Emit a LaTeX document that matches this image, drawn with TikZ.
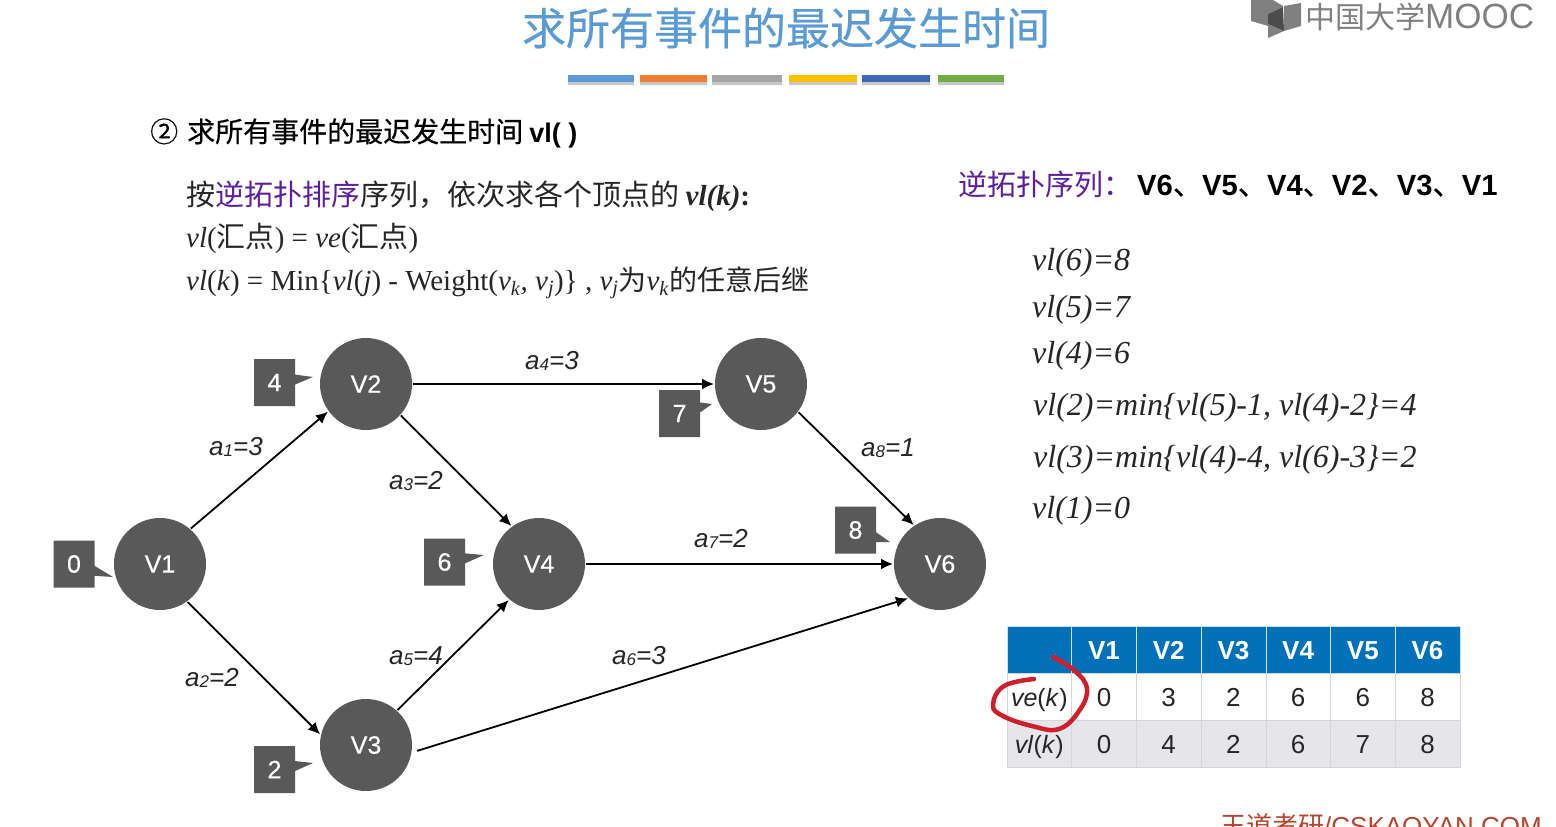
\documentclass[tikz,border=0pt]{standalone}
\usepackage{fontspec}
\usepackage{xcolor}
\setmainfont{Liberation Serif}
\setsansfont{Liberation Sans}
\newfontfamily\cjk{Noto Sans CJK SC}
\newfontfamily\cjkb[FakeBold=0.4]{Noto Sans CJK SC}
\newfontfamily\sansb[FakeBold=0.5]{Liberation Sans}
\usetikzlibrary{arrows.meta,positioning,shapes.callouts}
\definecolor{ink}{HTML}{595959}
\definecolor{titleblue}{HTML}{5B9BD5}
\definecolor{plum}{HTML}{5E1F9E}
\definecolor{headblue}{HTML}{0070B8}
\definecolor{rowgray}{HTML}{E6E6EA}
\definecolor{gridgray}{HTML}{D4D6DA}
\definecolor{penred}{HTML}{CF1F2A}
\definecolor{logogray}{HTML}{808080}
\definecolor{wdred}{HTML}{B5452C}
\definecolor{barorange}{HTML}{ED7D31}
\definecolor{bargray}{HTML}{A5A5A5}
\definecolor{baryellow}{HTML}{FFC000}
\definecolor{barblue}{HTML}{3D68B8}
\definecolor{bargreen}{HTML}{70AD47}
\newcommand{\sz}[1]{\fontsize{#1}{#1}\selectfont}
\newcommand{\sub}[1]{\textsubscript{#1}}
\newcommand{\lsub}[1]{\raisebox{-1.5pt}{\sz{17}#1}}
\begin{document}
\begin{tikzpicture}[x=1pt,y=1pt,on grid,inner sep=0pt,
vertex/.style={circle,fill=ink,minimum size=92pt,outer sep=1pt,text=white,font=\sansb\sz{25}},
tag/.style={rectangle callout,fill=ink,minimum width=41pt,minimum height=47pt,callout pointer width=10pt,text=white,font=\sansb\sz{25}},
arr/.style={-{Latex[length=12pt,width=11pt]},line width=1.8pt,draw=black},
lab/.style={font=\sffamily\itshape\sz{26},text=black!85},
line/.style={anchor=base west,font=\sz{29},text=black!85},
eqn/.style={anchor=base west,font=\itshape\sz{32},text=black!85},
cellh/.style={fill=headblue,draw=white!80!headblue,minimum width=64.7pt,minimum height=46.7pt,text height=22.6pt,text depth=3.4pt,text=white,font=\sffamily\bfseries\sz{26}},
cella/.style={fill=white,draw=gridgray,minimum width=64.7pt,minimum height=46.7pt,text height=22.6pt,text depth=3.4pt,text=black!85,font=\sffamily\sz{26}},
cellb/.style={cella,fill=rowgray},
node distance=64.7pt]
\useasboundingbox (0,-827) rectangle (1556,0);
% title and colour bars
\node[font=\cjkb\sz{44},text=titleblue] (title) at (786,-28) {求所有事件的最迟发生时间};
\fill[black!22] (568,-85) rectangle (634,-79) (640,-85) rectangle (707,-79) (712,-85) rectangle (782,-79) (789,-85) rectangle (857,-79) (862,-85) rectangle (930,-79) (938,-85) rectangle (1004,-79);
\fill[titleblue] (568,-82) rectangle (634,-75);
\fill[barorange] (640,-82) rectangle (707,-75);
\fill[bargray] (712,-82) rectangle (782,-75);
\fill[baryellow] (789,-82) rectangle (857,-75);
\fill[barblue] (862,-82) rectangle (930,-75);
\fill[bargreen] (938,-82) rectangle (1004,-75);
% logo
\fill[logogray] (1251,0) -- (1251,-21) -- (1268,-26) -- (1268,-14) -- (1283,-7) -- (1283,-6) -- (1273,0) -- cycle;
\fill[logogray] (1268,-24) -- (1284,-31) -- (1268,-38) -- cycle;
\fill[logogray] (1284,-6) -- (1301,-3) -- (1301,-26) -- (1284,-31) -- cycle;
\fill[black!70] (1268,-14) -- (1283,-7) -- (1284,-31) -- (1268,-24) -- cycle;
\node[font=\cjk\sz{30},text=logogray,anchor=base west] (logo) at (1305,-28) {中国大学{\sffamily\sz{35}MOOC}};
% text block
\node[anchor=base west,font=\cjkb\sz{28},text=black] (head) at (150,-142) {②\hspace{9pt}求所有事件的最迟发生时间 {\sffamily\bfseries\sz{27}vl( )}};
\node[line] (l1) at (186,-205) {\cjk 按{\color{plum}逆拓扑排序}序列\char"FF0C 依次求各个顶点的 {\rmfamily\bfseries\itshape\sz{29}vl(k)}{\rmfamily\bfseries\sz{29}:}};
\node[line] (l2) at (186,-247) {\sz{29}\textit{vl}({\cjk\sz{29}汇点}) = \textit{ve}({\cjk\sz{29}汇点})};
\node[line] (l3) at (186,-290) {\sz{29}\textit{vl}(\textit{k}) = Min\{\textit{vl}(\textit{j}) - Weight(\textit{v}\sub{\textit{k}}, \textit{v}\sub{\textit{j}})\} , \textit{v}\sub{\textit{j}}{\cjk\sz{28}为}\textit{v}\sub{\textit{k}}{\cjk\sz{28}的任意后继}};
\node[anchor=base west,font=\cjk\sz{29},text=plum] (seq) at (958,-195) {逆拓扑序列\char"FF1A};
\node[anchor=base west,font=\cjkb\sz{29.2},text=black] (seqv) at (1137,-195) {{\sffamily\bfseries V6}、{\sffamily\bfseries V5}、{\sffamily\bfseries V4}、{\sffamily\bfseries V2}、{\sffamily\bfseries V3}、{\sffamily\bfseries V1}};
% equations
\node[eqn] (e6) at (1032,-270) {vl(6)=8};
\node[eqn] (e5) at (1032,-317) {vl(5)=7};
\node[eqn] (e4) at (1032,-363) {vl(4)=6};
\node[eqn] (e2) at (1033,-415) {vl(2)=min\{vl(5)-1, vl(4)-2\}=4};
\node[eqn] (e3) at (1033,-467) {vl(3)=min\{vl(4)-4, vl(6)-3\}=2};
\node[eqn] (e1) at (1032,-518) {vl(1)=0};
% graph
\node[vertex] (V1) at (160,-564) {V1};
\node[vertex,above right=180pt and 206pt of V1] (V2) {V2};
\node[vertex,below right=181pt and 206pt of V1] (V3) {V3};
\node[vertex,right=379pt of V1] (V4) {V4};
\node[vertex,right=395pt of V2] (V5) {V5};
\node[vertex,right=401pt of V4] (V6) {V6};
\node[tag,left=86pt of V1,callout absolute pointer={(113,-577)}] (t1) {0};
\node[tag,above left=1.5pt and 91.5pt of V2,callout absolute pointer={(313,-377)}] (t2) {4};
\node[tag,below left=24.5pt and 91.5pt of V3,callout absolute pointer={(313,-763)}] (t3) {2};
\node[tag,above left=2pt and 94.5pt of V4,callout absolute pointer={(484,-555)}] (t4) {6};
\node[tag,below left=29.5pt and 81.5pt of V5,callout absolute pointer={(712,-404)}] (t5) {7};
\node[tag,above left=34pt and 84.5pt of V6,callout absolute pointer={(890,-542)}] (t6) {8};
\draw[arr] (V1.49)--(V2.216);
\draw[arr] (V1.-54)--(V3.167);
\draw[arr] (V2.-42)--(V4.126);
\draw[arr] (V2)--(V5);
\draw[arr] (V3.48)--(V4.230);
\draw[arr,shorten <=5pt] (V3.-9)--(V6.227);
\draw[arr] (V4)--(V6);
\draw[arr] (V5.-37)--(V6.124);
\node[lab] (a1) at (236,-447) {a\lsub{1}=3};
\node[lab] (a2) at (212,-678) {a\lsub{2}=2};
\node[lab] (a3) at (416,-481) {a\lsub{3}=2};
\node[lab] (a4) at (552,-361) {a\lsub{4}=3};
\node[lab] (a5) at (416,-656) {a\lsub{5}=4};
\node[lab] (a6) at (639,-656) {a\lsub{6}=3};
\node[lab] (a7) at (721,-539) {a\lsub{7}=2};
\node[lab] (a8) at (888,-448) {a\lsub{8}=1};
% table
\node[cellh] (h0) at (1039.3,-650) {};
\node[cellh,right=of h0] (h1) {V1};
\node[cellh,right=of h1] (h2) {V2};
\node[cellh,right=of h2] (h3) {V3};
\node[cellh,right=of h3] (h4) {V4};
\node[cellh,right=of h4] (h5) {V5};
\node[cellh,right=of h5] (h6) {V6};
\node[cella,below=46.7pt of h0,font=\sffamily\sz{25}] (e0) {\textit{ve}(\textit{k})};
\node[cella,right=of e0] (ve1) {0};
\node[cella,right=of ve1] (ve2) {3};
\node[cella,right=of ve2] (ve3) {2};
\node[cella,right=of ve3] (ve4) {6};
\node[cella,right=of ve4] (ve5) {6};
\node[cella,right=of ve5] (ve6) {8};
\node[cellb,below=46.7pt of e0,font=\sffamily\sz{25}] (l0) {\textit{vl}(\textit{k})};
\node[cellb,right=of l0] (vl1) {0};
\node[cellb,right=of vl1] (vl2) {4};
\node[cellb,right=of vl2] (vl3) {2};
\node[cellb,right=of vl3] (vl4) {6};
\node[cellb,right=of vl4] (vl5) {7};
\node[cellb,right=of vl5] (vl6) {8};
% pen mark
\draw[penred,line width=4.5pt,line cap=round,line join=round] plot[smooth,tension=.7] coordinates {(1053,-657) (1075,-671) (1087,-689) (1079,-711) (1059,-729) (1032,-726) (1003,-716) (993,-705) (1004,-686) (1034,-679)};
% watermark
\node[anchor=base west,font=\cjk\sz{26},text=wdred] (mark) at (1220,-835) {王道考研{\sffamily /CSKAOYAN.COM}};
\end{tikzpicture}
\end{document}
